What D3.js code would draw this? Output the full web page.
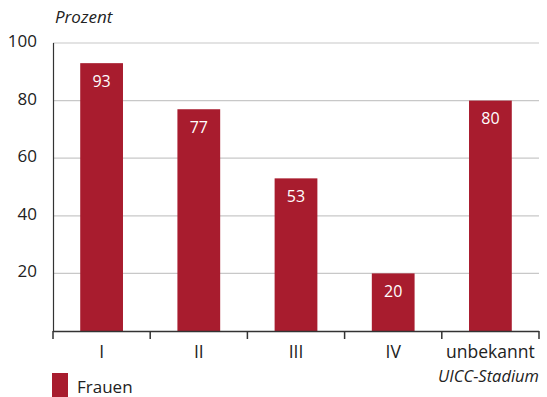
<!DOCTYPE html>
<html>
<head>
<meta charset="utf-8">
<script src="https://cdn.jsdelivr.net/npm/d3@7"></script>
<style>
  html, body { margin: 0; padding: 0; background: #fff; }
  svg { display: block; font-family: "Open Sans", Lato, sans-serif; }
</style>
</head>
<body>
<div id="chart"></div>
<script>
// Anteil in Prozent je UICC-Stadium (Frauen)
const categories = ["I", "II", "III", "IV", "unbekannt"];
const values = [93, 77, 53, 20, 80];
const yTicks = [20, 40, 60, 80, 100];
const seriesName = "Frauen";

const W = 547, H = 397;
const margin = { top: 43, right: 8, bottom: 66, left: 53 };
const barColor = "#a81c2e";

const svg = d3.select("#chart").append("svg")
  .attr("width", W).attr("height", H);

const x = d3.scaleBand()
  .domain(categories)
  .range([margin.left, W - margin.right])
  .paddingInner(0.56)
  .paddingOuter(0.28);

const y = d3.scaleLinear()
  .domain([0, 100])
  .range([H - margin.bottom, margin.top]);

// horizontal gridlines
svg.append("g")
  .selectAll("line")
  .data(yTicks)
  .join("line")
  .attr("x1", margin.left)
  .attr("x2", W - margin.right)
  .attr("y1", d => y(d))
  .attr("y2", d => y(d))
  .attr("stroke", "#c8c8c8")
  .attr("stroke-width", 1.2);

// y tick labels
svg.append("g")
  .selectAll("text")
  .data(yTicks)
  .join("text")
  .attr("x", 37)
  .attr("y", d => y(d) - 2)
  .attr("dy", "0.35em")
  .attr("text-anchor", "end")
  .attr("fill", "#222")
  .style("font-size", "17px")
  .text(d => d);

// bars
svg.append("g")
  .selectAll("rect")
  .data(values)
  .join("rect")
  .attr("x", (d, i) => x(categories[i]))
  .attr("width", x.bandwidth())
  .attr("y", d => y(d))
  .attr("height", d => y(0) - y(d))
  .attr("fill", barColor);

// value labels inside bars
svg.append("g")
  .selectAll("text")
  .data(values)
  .join("text")
  .attr("x", (d, i) => x(categories[i]) + x.bandwidth() / 2)
  .attr("y", d => y(d) + 18)
  .attr("dy", "0.35em")
  .attr("text-anchor", "middle")
  .attr("fill", "#fff")
  .style("font-size", "16px")
  .text(d => d);

// y axis line
svg.append("line")
  .attr("x1", margin.left + 0.5).attr("x2", margin.left + 0.5)
  .attr("y1", y(100)).attr("y2", y(0))
  .attr("stroke", "#333").attr("stroke-width", 1.2);

// x axis with boundary ticks
const bottom = svg.append("g");
bottom.append("line")
  .attr("x1", margin.left).attr("x2", W - margin.right)
  .attr("y1", y(0) + 0.5).attr("y2", y(0) + 0.5)
  .attr("stroke", "#333").attr("stroke-width", 1.5);

const bounds = d3.range(categories.length + 1).map(i => margin.left + i * (W - margin.left - margin.right) / categories.length);
bottom.selectAll("line.tick")
  .data(bounds)
  .join("line")
  .attr("class", "tick")
  .attr("x1", d => d).attr("x2", d => d)
  .attr("y1", y(0)).attr("y2", y(0) + 8)
  .attr("stroke", "#333").attr("stroke-width", 1.5);

bottom.selectAll("text")
  .data(categories)
  .join("text")
  .attr("x", d => x(d) + x.bandwidth() / 2)
  .attr("y", y(0) + 21)
  .attr("dy", "0.35em")
  .attr("text-anchor", "middle")
  .attr("fill", "#222")
  .style("font-size", "17.5px")
  .text(d => d);

// axis titles
svg.append("text")
  .attr("x", 55).attr("y", 17)
  .attr("dy", "0.35em")
  .attr("fill", "#222")
  .style("font-size", "17px")
  .style("font-style", "italic")
  .text("Prozent");

svg.append("text")
  .attr("x", W - margin.right).attr("y", 376)
  .attr("dy", "0.35em")
  .attr("text-anchor", "end")
  .attr("fill", "#222")
  .style("font-size", "16.5px")
  .style("font-style", "italic")
  .text("UICC-Stadium");

// legend
svg.append("rect")
  .attr("x", 52).attr("y", 373)
  .attr("width", 16).attr("height", 24)
  .attr("fill", barColor);
svg.append("text")
  .attr("x", 77).attr("y", 387)
  .attr("dy", "0.35em")
  .attr("fill", "#222")
  .style("font-size", "17px")
  .text(seriesName);
</script>
</body>
</html>
